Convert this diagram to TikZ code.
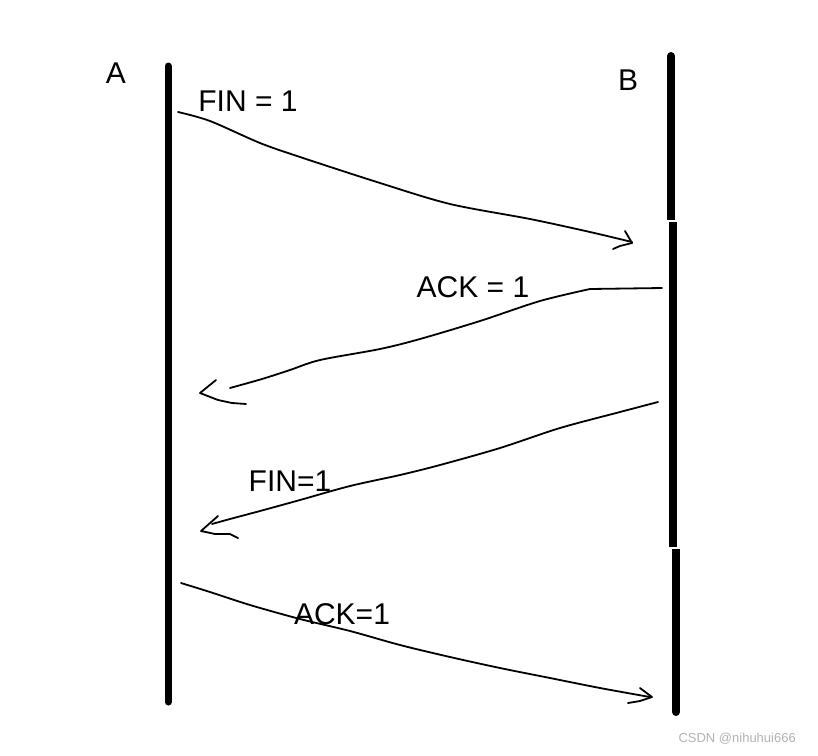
\documentclass[tikz,border=0pt]{standalone}
\usepackage{fontspec}
\setmainfont{Liberation Sans}
\begin{document}
\begin{tikzpicture}[x=1pt,y=-1pt,
  lifeline/.style={line width=8pt,line cap=round},
  hand/.style={line width=1.8pt,line cap=round,line join=round},
  lbl/.style={font=\fontsize{30}{34}\selectfont,inner sep=0pt},
  wm/.style={font=\fontsize{13}{15}\selectfont,text=black!30,inner sep=0pt}]
\useasboundingbox (0,0) rectangle (818,755);
% lifelines
\coordinate (a1) at (168,66);
\coordinate (a2) at (168,702);
\draw[lifeline,line width=7pt] (a1) -- (a2);
\coordinate (b1) at (671,56);
\coordinate (b2) at (671,220);
\coordinate (b3) at (673,222);
\coordinate (b4) at (673,547);
\coordinate (b5) at (676,549);
\coordinate (b6) at (676,712);
\draw[lifeline,line cap=butt] (b1) -- (b2);
\draw[lifeline,line cap=butt] (b3) -- (b4);
\draw[lifeline,line cap=butt] (b5) -- (b6);
\fill (671,56) circle (4pt);
\fill (676,712) circle (4pt);
% labels
\node[lbl] (A) at (116,73) {A};
\node[lbl] (B) at (628,80) {B};
\node[lbl] (f1) at (248,101) {FIN = 1};
\node[lbl] (k1) at (473,287) {ACK = 1};
\node[lbl] (f2) at (290,481) {FIN=1};
\node[lbl] (k2) at (342,614) {ACK=1};
\node[wm,anchor=east] (wm) at (796,739) {CSDN @nihuhui666};
% message 1
\draw[hand] plot[smooth,tension=0.5] coordinates {(178,112) (210,121) (260,143) (300,157) (380,183) (450,204) (530,219) (590,232) (632,242)};
\draw[hand] (625,231) -- (632,243) -- (620,246) -- (613,249);
% message 2
\draw[hand] (662,288) -- (590,289);
\draw[hand] plot[smooth,tension=0.5] coordinates {(590,289) (540,301) (480,321) (420,339) (380,349) (320,360) (290,370) (262,379) (230,388)};
\draw[hand] (216,380) -- (200,393) -- (218,400) -- (232,403) -- (246,404);
% message 3
\draw[hand] plot[smooth,tension=0.5] coordinates {(658,402) (620,412) (560,428) (500,448) (440,465) (400,475) (350,486) (300,500) (260,511) (230,519) (212,524)};
\draw[hand] (218,516) -- (201,531) -- (215,534) -- (230,534) -- (238,538);
% message 4
\draw[hand] plot[smooth,tension=0.5] coordinates {(181,583) (210,592) (250,605) (300,619) (350,631) (400,645) (450,657) (500,668) (550,678) (600,688) (650,697)};
\draw[hand] (640,688) -- (652,697) -- (640,701) -- (628,703);
\end{tikzpicture}
\end{document}
